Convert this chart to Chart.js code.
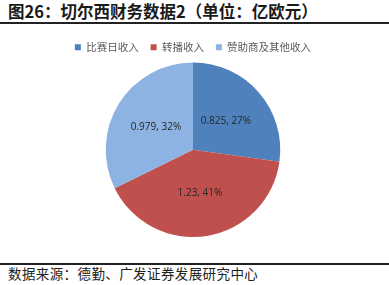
<!DOCTYPE html>
<html>
<head>
<meta charset="utf-8">
<script src="https://cdn.jsdelivr.net/npm/chart.js@4"></script>
<style>
  html, body { margin: 0; padding: 0; background: #fff; }
  body { width: 389px; height: 285px; position: relative; overflow: hidden; font-family: "Noto Sans CJK SC", sans-serif; }
  #title { position: absolute; left: 8px; top: 0px; font-size: 16.5px; font-weight: bold; color: #1a1a1a; line-height: 22px; }
  #topline { position: absolute; left: 0; top: 22px; width: 389px; height: 2px; background: #222; }
  #botline { position: absolute; left: 0; top: 263px; width: 389px; height: 1.5px; background: #222; }
  #source { position: absolute; left: 8px; top: 264px; font-size: 13.5px; letter-spacing: 0.4px; color: #222; line-height: 18px; }
  #wrap { position: absolute; left: 0; top: 27px; width: 389px; height: 210px; }
</style>
</head>
<body>
<div id="title">图26：切尔西财务数据2（单位：亿欧元）</div>
<div id="topline"></div>
<div id="wrap"><canvas id="chart"></canvas></div>
<div id="botline"></div>
<div id="source">数据来源：德勤、广发证券发展研究中心</div>
<script>
// revenue split, 亿欧元
const categories = ['比赛日收入', '转播收入', '赞助商及其他收入'];
const values = [0.825, 1.23, 0.979];
const colors = ['#4F81BD', '#C0504D', '#8DB3E2'];

// draws "value, pct%" in the middle of each slice
const sliceLabels = {
  id: 'sliceLabels',
  afterDatasetsDraw(chart) {
    const ctx = chart.ctx;
    const total = values.reduce((a, b) => a + b, 0);
    chart.getDatasetMeta(0).data.forEach((arc, i) => {
      const p = arc.tooltipPosition();
      const pct = Math.round(values[i] / total * 100);
      ctx.save();
      ctx.font = '10px "Open Sans", sans-serif';
      ctx.fillStyle = '#262626';
      ctx.textAlign = 'center';
      ctx.textBaseline = 'middle';
      ctx.fillText(values[i] + ', ' + pct + '%', p.x, p.y);
      ctx.restore();
    });
  }
};

new Chart(document.getElementById('chart'), {
  type: 'pie',
  data: {
    labels: categories,
    datasets: [{
      data: values,
      backgroundColor: colors,
      borderWidth: 0
    }]
  },
  options: {
    responsive: true,
    maintainAspectRatio: false,
    animation: false,
    layout: { padding: { top: 3, right: 3 } },
    plugins: {
      legend: {
        position: 'top',
        labels: {
          boxWidth: 6,
          boxHeight: 6,
          padding: 12,
          color: '#595959',
          font: { size: 10.5, family: '"Noto Sans CJK SC", sans-serif' }
        }
      },
      tooltip: { enabled: false }
    }
  },
  plugins: [sliceLabels]
});
</script>
</body>
</html>
